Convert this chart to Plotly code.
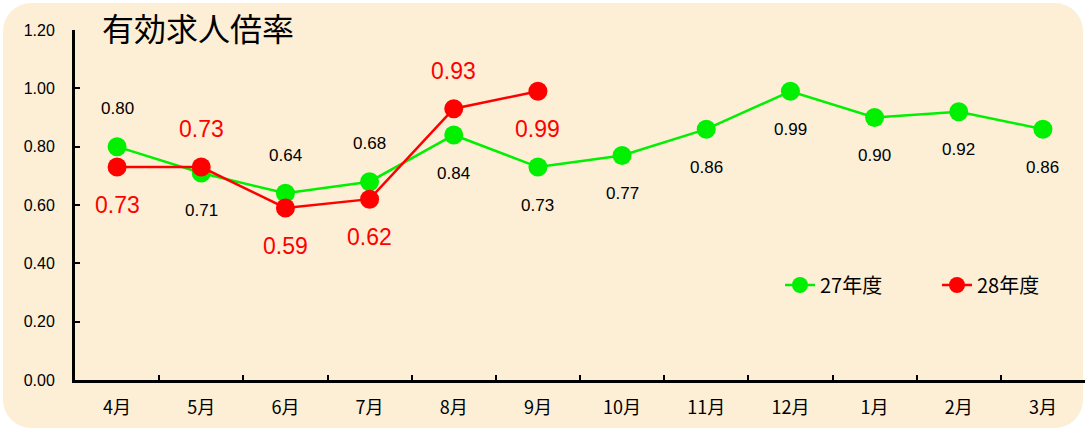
import math
import plotly.graph_objects as go

months = ["4月", "5月", "6月", "7月", "8月", "9月", "10月", "11月", "12月", "1月", "2月", "3月"]
fy27 = [0.80, 0.71, 0.64, 0.68, 0.84, 0.73, 0.77, 0.86, 0.99, 0.90, 0.92, 0.86]
fy28 = [0.73, 0.73, 0.59, 0.62, 0.93, 0.99]
fy27_label_side = ["up", "down", "up", "up", "down", "down", "down", "down", "down", "down", "down", "down"]
fy28_label_side = ["down", "up", "down", "down", "up", "down"]

FONT = "Liberation Sans, Arial, Noto Sans CJK JP, sans-serif"
JPFONT = "Noto Sans CJK JP, Liberation Sans, sans-serif"
GREEN = "#00F000"
RED = "#FF0000"

W, H = 1085, 431
ML, MR, MT, MB = 75, 0, 30, 51
PW, PH = W - ML - MR, H - MT - MB


def px_to_paper(px, py):
    return (px - ML) / PW, (H - MB - py) / PH


def rounded_rect_path(x0, y0, x1, y1, r, n=8):
    pts = []
    corners = [(x1 - r, y0 + r, -90), (x1 - r, y1 - r, 0), (x0 + r, y1 - r, 90), (x0 + r, y0 + r, 180)]
    for cx, cy, a0 in corners:
        for i in range(n + 1):
            a = math.radians(a0 + 90 * i / n)
            pts.append(px_to_paper(cx + r * math.cos(a), cy + r * math.sin(a)))
    return "M " + " L ".join(f"{x:.5f},{y:.5f}" for x, y in pts) + " Z"


fig = go.Figure()
fig.add_trace(go.Scatter(x=months, y=fy27, mode="lines+markers", name="27年度",
                         line=dict(color=GREEN, width=2.5),
                         marker=dict(color=GREEN, size=19)))
fig.add_trace(go.Scatter(x=months[:len(fy28)], y=fy28, mode="lines+markers", name="28年度",
                         line=dict(color=RED, width=2.5),
                         marker=dict(color=RED, size=19)))

annotations = []
for m, v, s in zip(months, fy27, fy27_label_side):
    annotations.append(dict(x=m, y=v, text=f"{v:.2f}", showarrow=False,
                            yshift=38 if s == "up" else -38,
                            font=dict(family=FONT, size=17, color="black")))
for m, v, s in zip(months, fy28, fy28_label_side):
    annotations.append(dict(x=m, y=v, text=f"{v:.2f}", showarrow=False,
                            yshift=38 if s == "up" else -38,
                            font=dict(family=FONT, size=23, color=RED)))

fig.update_layout(
    width=W, height=H,
    margin=dict(l=ML, r=MR, t=MT, b=MB, autoexpand=False),
    paper_bgcolor="white",
    plot_bgcolor="rgba(0,0,0,0)",
    title=dict(text="有効求人倍率", x=102/W, xanchor="left", y=1-30/H, yanchor="middle",
               font=dict(family=JPFONT, size=32, color="black")),
    showlegend=True,
    legend=dict(orientation="h", x=(780 - ML) / PW, xanchor="left", y=px_to_paper(0, 285)[1], yanchor="middle",
                bgcolor="rgba(0,0,0,0)", font=dict(family=JPFONT, size=20, color="black"),
                entrywidth=112, entrywidthmode="pixels"),
    annotations=annotations,
    shapes=[dict(type="path", xref="paper", yref="paper", layer="below",
                 path=rounded_rect_path(3, 3, 1083, 428, 28),
                 fillcolor="#FCEFD6", line=dict(width=0))],
)

fig.update_xaxes(type="category", range=[-0.5, 11.5], showgrid=False, zeroline=False,
                 showline=True, linecolor="black", linewidth=3,
                 ticks="inside", tickson="boundaries", ticklen=5, tickwidth=2, tickcolor="black",
                 ticklabelstandoff=9,
                 tickfont=dict(family=JPFONT, size=18, color="black"))
fig.update_yaxes(range=[0, 1.2], dtick=0.2, tickformat=".2f", showgrid=False, zeroline=False,
                 showline=True, linecolor="black", linewidth=3,
                 ticks="inside", ticklen=5, tickwidth=2, tickcolor="black", ticklabelstandoff=14,
                 tickfont=dict(family=FONT, size=16, color="black"))

fig.write_html("out.html", config={"displayModeBar": False},
               post_script="document.body.style.margin='0';")
